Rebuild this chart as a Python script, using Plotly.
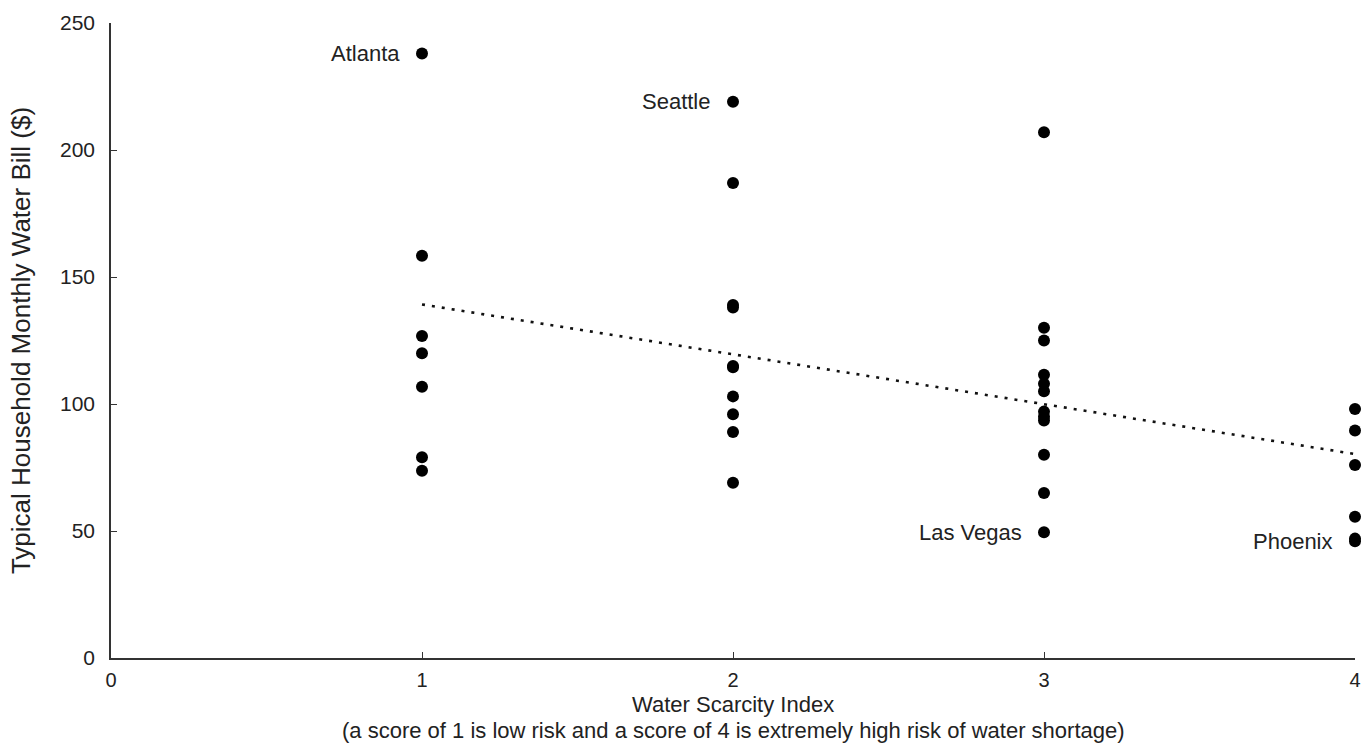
import numpy as np
import plotly.graph_objects as go

# Water Scarcity Index (x) and typical monthly water bill in $ (y)
scarcity_1 = [238, 158.4, 126.8, 120, 106.8, 79, 73.7]
scarcity_2 = [219, 187, 138, 139, 115, 114.5, 103, 96, 89, 69]
scarcity_3 = [207, 130, 125, 111.5, 108, 105, 97, 95, 93.5, 80, 65, 49.5]
scarcity_4 = [98, 89.6, 76, 55.6, 47, 46]

groups = [(1, scarcity_1), (2, scarcity_2), (3, scarcity_3), (4, scarcity_4)]
x_vals = [g for g, vals in groups for _ in vals]
y_vals = [v for _, vals in groups for v in vals]

city_names = ["Atlanta", "Seattle", "Las Vegas", "Phoenix"]
city_x = [1, 2, 3, 4]
city_y = [238, 219, 49.5, 46]

x_ticks = [0, 1, 2, 3, 4]
y_ticks = [0, 50, 100, 150, 200, 250]

x_title = "Water Scarcity Index"
x_subtitle = "(a score of 1 is low risk and a score of 4 is extremely high risk of water shortage)"
y_title = "Typical Household Monthly Water Bill ($)"

FONT = "Liberation Sans, Arial, sans-serif"
INK = "#111111"
TXT = "#222222"

slope, intercept = np.polyfit(x_vals, y_vals, 1)
trend_x = [min(x_vals), max(x_vals)]
trend_y = [intercept + slope * t for t in trend_x]

fig = go.Figure()
fig.add_trace(go.Scatter(
    x=trend_x, y=trend_y, mode="lines",
    line=dict(color=INK, width=2.6, dash="3px,7px"),
    hoverinfo="skip", showlegend=False, cliponaxis=False,
))
fig.add_trace(go.Scatter(
    x=x_vals, y=y_vals, mode="markers",
    marker=dict(color="black", size=12, line=dict(width=0)),
    showlegend=False, cliponaxis=False,
))

for name, cx, cy in zip(city_names, city_x, city_y):
    fig.add_annotation(
        x=cx, y=cy, text=name, showarrow=False,
        xanchor="right", yanchor="middle", xshift=-20,
        font=dict(family=FONT, size=22, color=TXT),
    )

# x-axis title (two lines placed individually to keep the tight line spacing)
fig.add_annotation(
    x=2, xref="x", y=0, yref="paper", text=x_title, showarrow=False,
    xanchor="center", yanchor="middle", yshift=-46,
    font=dict(family=FONT, size=22, color=TXT),
)
fig.add_annotation(
    x=2, xref="x", y=0, yref="paper", text=x_subtitle, showarrow=False,
    xanchor="center", yanchor="middle", yshift=-72,
    font=dict(family=FONT, size=22, color=TXT),
)

fig.update_layout(
    width=1361, height=744,
    margin=dict(l=111, r=6, t=23, b=86, autoexpand=False),
    paper_bgcolor="white", plot_bgcolor="white",
    font=dict(family=FONT, color=TXT),
    showlegend=False,
)
fig.update_xaxes(
    range=[0, 4], tickvals=x_ticks, ticktext=[str(t) for t in x_ticks],
    showgrid=False, zeroline=False, automargin=False,
    showline=True, linecolor="#333", linewidth=1.6,
    ticks="inside", ticklen=6, tickcolor="#333", tickwidth=1.2,
    ticklabelstandoff=3, ticklabeloverflow="allow",
    tickfont=dict(family=FONT, size=20, color=TXT),
)
fig.update_yaxes(
    range=[0, 250], tickvals=y_ticks, ticktext=[str(t) for t in y_ticks],
    showgrid=False, zeroline=False, automargin=False,
    showline=True, linecolor="#333", linewidth=1.6,
    ticks="inside", ticklen=6, tickcolor="#333", tickwidth=1.2,
    ticklabelstandoff=10, ticklabeloverflow="allow",
    tickfont=dict(family=FONT, size=21, color=TXT),
    title=dict(text=y_title, font=dict(family=FONT, size=26, color=TXT), standoff=22),
)

fig.write_html(
    "out.html",
    config={"displayModeBar": False},
    post_script="document.body.style.margin='0px';document.body.style.overflow='hidden';",
)
